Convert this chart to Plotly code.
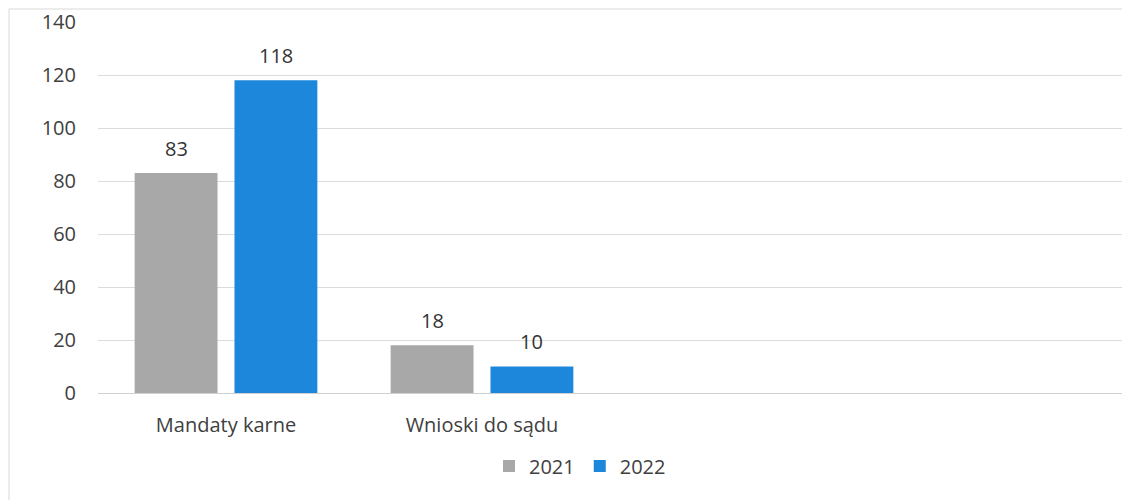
import plotly.graph_objects as go

categories = ["Mandaty karne", "Wnioski do sądu"]
series_names = ["2021", "2022"]
values_2021 = [83, 18]
values_2022 = [118, 10]
y_ticks = [0, 20, 40, 60, 80, 100, 120, 140]

colors = ["#a8a8a8", "#1d87db"]
font_family = "Open Sans, Noto Sans, sans-serif"
FS = 20

# page body has an 8px offset; margins compensate for it
OFF = 8
W, H = 1130, 500
L, T = 98 - OFF, 22 - OFF
R = W - (1122 - OFF)
B = H - (393 - OFF)
pw = W - L - R
ph = H - T - B

fig = go.Figure()
for name, vals, col in zip(series_names, [values_2021, values_2022], colors):
    fig.add_trace(go.Bar(
        x=categories, y=vals, name=name, marker=dict(color=col, line=dict(width=0)),
    ))

# data labels above bars
annotations = []
slot_px = pw / 4 * (1 - 0.22) / 2
for i, vals in enumerate([values_2021, values_2022]):
    shift = (i - 0.5) * slot_px
    for c, v in zip(categories, vals):
        annotations.append(dict(x=c, y=v, xref="x", yref="y", text=str(v),
                                showarrow=False, xshift=shift, yshift=25,
                                font=dict(size=FS, color="#333333", family=font_family)))

fig.update_layout(
    width=W, height=H,
    margin=dict(l=L, r=R, t=T, b=B, autoexpand=False),
    paper_bgcolor="white", plot_bgcolor="white",
    barmode="group", bargap=0.22, bargroupgap=0.17,
    font=dict(family=font_family, size=FS, color="#404040"),
    showlegend=True,
    legend=dict(orientation="h", x=(580 - OFF - L) / pw, xanchor="center",
                y=(H - B - (466 - OFF)) / ph, yanchor="middle",
                font=dict(size=FS, color="#404040"), itemwidth=30,
                traceorder="normal"),
    xaxis=dict(type="category", range=[-0.5, 3.5], showgrid=False, automargin=False,
               showline=False, ticks="", ticklabelstandoff=18,
               tickfont=dict(size=FS, color="#404040")),
    yaxis=dict(range=[0, 140], tickvals=y_ticks, showgrid=True, automargin=False,
               gridcolor="#dcdcdc", gridwidth=1, zeroline=True,
               zerolinecolor="#d0d0d0", zerolinewidth=1, showline=False,
               ticks="", ticklabelstandoff=21,
               tickfont=dict(size=FS, color="#404040")),
    annotations=annotations,
    shapes=[dict(type="rect", xref="paper", yref="paper",
                 x0=(1 - L) / pw, x1=(W + 5 - L) / pw,
                 y0=(H - B - (H + 5)) / ph, y1=(H - B - 1) / ph,
                 line=dict(color="#d9d9d9", width=1), fillcolor="rgba(0,0,0,0)",
                 layer="below")],
)

fig.write_html("out.html")
